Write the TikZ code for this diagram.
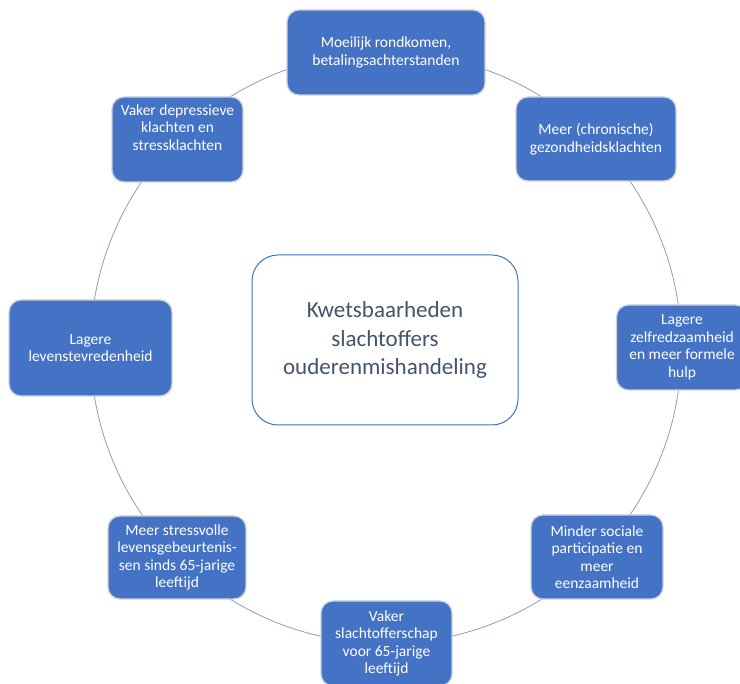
\documentclass[tikz,border=0pt]{standalone}
\usepackage{fontspec}
\setmainfont{Carlito}
\usetikzlibrary{positioning}

\definecolor{boxblue}{RGB}{68,114,196}
\definecolor{boxedge}{RGB}{205,208,218}
\definecolor{ringgray}{RGB}{150,156,176}
\definecolor{titlegray}{RGB}{68,84,106}

\begin{document}
\begin{tikzpicture}[
  x=1pt, y=-1pt,
  every node/.style={font=\fontsize{15.5}{17.5}\selectfont},
  item/.style={draw=boxedge, line width=1.3pt, fill=boxblue, text=white,
    rounded corners=12pt, align=center, inner sep=4pt,
    minimum width=131pt, minimum height=85pt},
  hub/.style={draw=boxblue, line width=1pt, fill=white, text=titlegray,
    rounded corners=26pt, align=center, minimum width=266pt, minimum height=170pt,
    font=\fontsize{23}{28.5}\selectfont}
]
\useasboundingbox (0,0) rectangle (740,684);

% Ring behind the boxes
\coordinate (mid) at (386,348);
\draw[ringgray, line width=0.8pt] (mid) circle[radius=295.5];

% Centre box
\node[hub] (kern) at (385,340) {Kwetsbaarheden\\slachtoffers\\ouderenmishandeling};

% Boxes round the ring
\node[item, minimum width=198pt] (geld) at (386,52.5) {Moeilijk rondkomen,\\betalingsachterstanden};
\node[item, minimum width=160pt, minimum height=84pt] (gezond) at (596,139) {Meer (chronische)\\gezondheidsklachten};
\node[item] (hulp) at (682,347.5) {Lagere\\zelfredzaamheid\\en meer formele\\hulp};
\node[item, minimum width=132pt, minimum height=84pt] (sociaal) at (597,557) {Minder sociale\\participatie en\\meer\\eenzaamheid};
\node[item] (eerder) at (386.5,643.5) {Vaker\\slachtofferschap\\voor 65-jarige\\leeftijd};
\node[item, minimum width=138pt, minimum height=83pt] (stress) at (177,557.5) {Meer stressvolle\\levensgebeurtenis-\\sen sinds 65-jarige\\leeftijd};
\node[item, minimum width=163pt, minimum height=96pt] (leven) at (90.5,348) {Lagere\\levenstevredenheid};
\node[item] (depressie) at (177.5,139.5) {};
\node[text=white, align=center] (depressietekst) at (177.5,127.5) {Vaker depressieve\\klachten en\\stressklachten};

\end{tikzpicture}
\end{document}
